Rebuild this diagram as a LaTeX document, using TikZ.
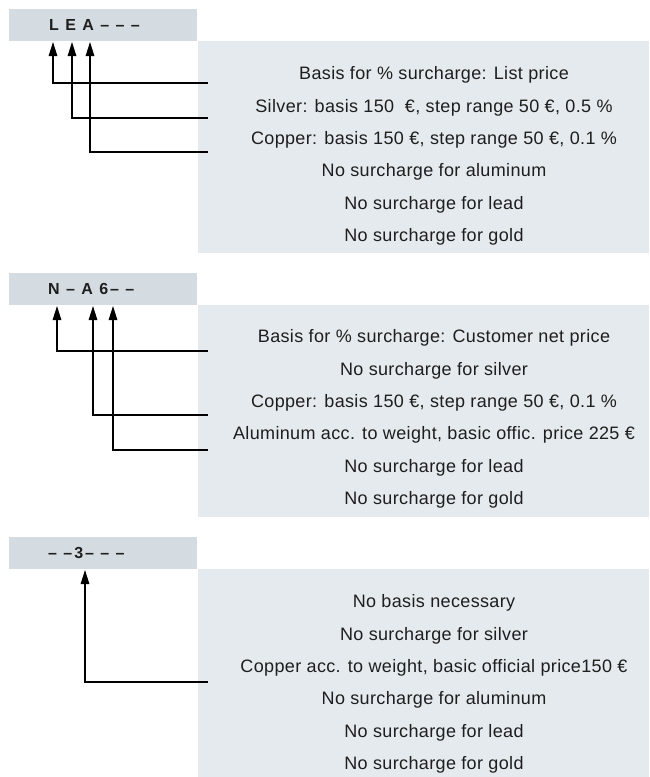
\documentclass[tikz,border=0pt]{standalone}
\usepackage{fontspec}
\setmainfont{Liberation Sans}
\usepackage{tikz}
\usetikzlibrary{arrows.meta,positioning,calc}
\definecolor{hdrfill}{HTML}{D4DCE1}
\definecolor{boxfill}{HTML}{E4EAED}
\definecolor{ink}{HTML}{1E1E1E}

\begin{document}
\begin{tikzpicture}[x=1pt,y=-1pt,
  hdr/.style={fill=hdrfill,draw=none},
  panel/.style={fill=boxfill,draw=none},
  code/.style={anchor=west,inner sep=0pt,text=ink,font=\fontsize{16}{18}\selectfont\bfseries\addfontfeature{LetterSpace=12}},
  row/.style={inner sep=0pt,text=ink,font=\fontsize{18}{21}\selectfont\addfontfeature{LetterSpace=2}},
  pin/.style={-{Triangle[length=14pt,width=8.5pt]},line width=1.4pt,black}]
  \useasboundingbox (0,0) rectangle (649,777);
  % key L E A
  \fill[hdr] (9,9) rectangle (197,41);
  \fill[panel] (198,41) rectangle (649,253);
  \node[code] (k1) at (49,25) {L E A – – –};
  \foreach \t [count=\i] in {Basis for \% surcharge: List price,
      Silver: basis 150\ \ €{,} step range 50 €{,} 0.5 \%,
      Copper: basis 150 €{,} step range 50 €{,} 0.1 \%,
      No surcharge for aluminum,No surcharge for lead,No surcharge for gold}
    \node[row] (r1\i) at (434,{75+32.4*(\i-1)}) {\t};
  \foreach \n/\x/\y in {1/53/83,2/72/118,3/90/152}{
    \coordinate (t1\n) at (\x,42);
    \coordinate (e1\n) at (208,\y);
    \draw[pin] (e1\n) -| (t1\n);
  }
  % key N - A 6
  \fill[hdr] (9,273) rectangle (197,305);
  \fill[panel] (198,305) rectangle (649,517);
  \node[code] (k2) at (48,289) {N – A 6– –};
  \foreach \t [count=\i] in {Basis for \% surcharge: Customer net price,
      No surcharge for silver,
      Copper: basis 150 €{,} step range 50 €{,} 0.1 \%,
      Aluminum acc. to weight{,} basic offic. price 225 €,
      No surcharge for lead,No surcharge for gold}
    \node[row] (r2\i) at (434,{338+32.4*(\i-1)}) {\t};
  \foreach \n/\x/\y in {1/57/351,2/93/415,3/113/450}{
    \coordinate (t2\n) at (\x,306);
    \coordinate (e2\n) at (208,\y);
    \draw[pin] (e2\n) -| (t2\n);
  }
  % key 3
  \fill[hdr] (9,537) rectangle (197,569);
  \fill[panel] (198,569) rectangle (649,777);
  \node[code] (k3) at (48,553) {– –3– – –};
  \foreach \t [count=\i] in {No basis necessary,
      No surcharge for silver,
      Copper acc. to weight{,} basic official price150 €,
      No surcharge for aluminum,No surcharge for lead,No surcharge for gold}
    \node[row] (r3\i) at (434,{603+32.4*(\i-1)}) {\t};
  \coordinate (t31) at (85,570);
  \coordinate (e31) at (208,682);
  \draw[pin] (e31) -| (t31);
\end{tikzpicture}
\end{document}
